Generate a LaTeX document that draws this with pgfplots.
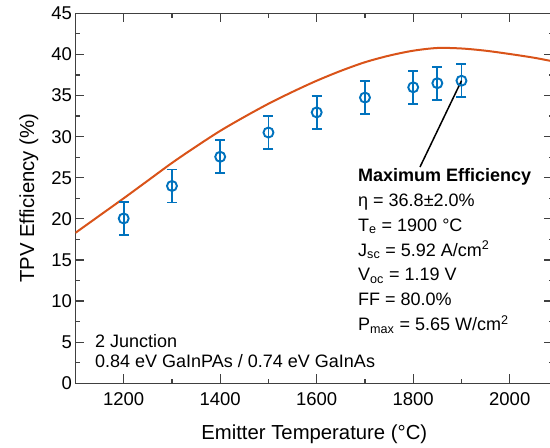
\documentclass[border=0pt]{standalone}
\usepackage{fontspec}
\setmainfont{Liberation Sans}
\usepackage{pgfplots}
\pgfplotsset{compat=1.18}
\usetikzlibrary{calc}
\definecolor{mblue}{RGB}{0,114,189}
\definecolor{morange}{RGB}{217,83,25}
\definecolor{axgray}{RGB}{64,64,64}

\begin{document}
\begin{tikzpicture}
\begin{axis}[name=ax, scale only axis, width=477.7bp, height=370bp,
  xmin=1100, xmax=2090, ymin=0, ymax=45,
  xtick={1200,1400,...,2000}, minor x tick num=1,
  ytick={0,5,...,45}, minor y tick num=1,
  tick align=inside, major tick length=9bp, minor tick length=4.5bp,
  axis line style={draw=axgray, line width=1.2bp},
  tick style={draw=axgray, line width=1.2bp},
  ticklabel style={font=\fontsize{18.5bp}{22bp}\selectfont, text=black},
  /pgf/number format/assume math mode=true,
  /pgf/number format/1000 sep={},
  xticklabel style={yshift=-5.5bp},
  xlabel={Emitter Temperature (°C)},
  ylabel={TPV Efficiency (\%)},
  label style={font=\fontsize{20.3bp}{24bp}\selectfont},
  xlabel style={at={(axis description cs:0.5,-0.1532)}, anchor=base},
  ylabel style={at={(axis description cs:-0.0865,0.5)}, anchor=base},
]
% modelled efficiency
\addplot[morange, line width=2bp, smooth, tension=0.5] coordinates {
  (1100,18.3) (1150,20.4) (1200,22.5) (1250,24.65) (1300,26.8) (1350,28.8)
  (1400,30.7) (1450,32.4) (1500,34.0) (1550,35.45) (1600,36.8) (1650,38.0)
  (1700,39.05) (1750,39.85) (1800,40.45) (1850,40.78) (1900,40.72) (1950,40.45)
  (2000,40.05) (2050,39.6) (2090,39.15)
};
% measured efficiency
\addplot[mblue, only marks, mark=o, mark size=5bp, mark options={line width=1.9bp},
  error bars/.cd, y dir=both, y explicit,
  error bar style={line width=1.8bp},
  error mark options={rotate=90, mark size=5bp, line width=1.8bp, mblue}]
  coordinates {
  (1200,20.05) +- (0,2) (1300,24.0) +- (0,2) (1400,27.55) +- (0,2)
  (1500,30.5) +- (0,2) (1600,32.95) +- (0,2) (1700,34.75) +- (0,2)
  (1800,36.0) +- (0,2) (1850,36.5) +- (0,2) (1900,36.8) +- (0,2)
};
\draw[black, line width=1.5bp] (axis cs:1900,36.8) -- (axis cs:1814,26.3);
\begin{scope}[every node/.style={anchor=base west, inner sep=0pt, font=\fontsize{18bp}{22bp}\selectfont}]
\node at (axis cs:1685.6,24.52) {\bfseries Maximum Efficiency};
\node at (axis cs:1685.6,21.50) {η = 36.8±2.0\%};
\node at (axis cs:1685.6,18.48) {T\textsubscript{e} = 1900 °C};
\node at (axis cs:1685.6,15.47) {J\textsubscript{sc} = 5.92 A/cm\textsuperscript{2}};
\node at (axis cs:1685.6,12.45) {V\textsubscript{oc} = 1.19 V};
\node at (axis cs:1685.6,9.44) {FF = 80.0\%};
\node at (axis cs:1685.6,6.42) {P\textsubscript{max} = 5.65 W/cm\textsuperscript{2}};
\node at (axis cs:1140.5,4.33) {2 Junction};
\node at (axis cs:1140.5,1.95) {0.84 eV GaInPAs / 0.74 eV GaInAs};
\end{scope}
\end{axis}
\pgfresetboundingbox
\path[use as bounding box] ($(ax.south west)+(-75.45bp,-64.7bp)$) rectangle ($(ax.south west)+(474.55bp,383.3bp)$);
\end{tikzpicture}
\end{document}
